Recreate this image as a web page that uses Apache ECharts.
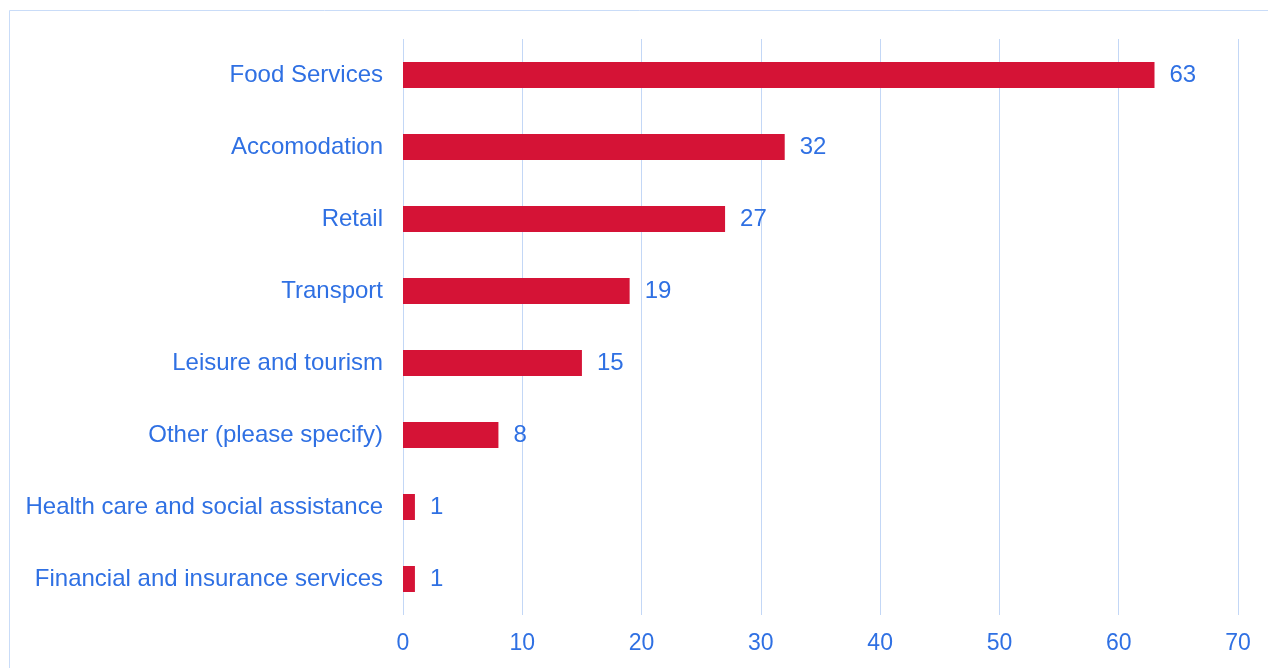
<!DOCTYPE html>
<html>
<head>
<meta charset="utf-8">
<script src="https://cdn.jsdelivr.net/npm/echarts@6/dist/echarts.min.js"></script>
<style>html,body{margin:0;padding:0;background:#fff}#c{width:1268px;height:668px}</style>
</head>
<body>
<div id="c"></div>
<script>
var categories = ["Food Services","Accomodation","Retail","Transport","Leisure and tourism","Other (please specify)","Health care and social assistance","Financial and insurance services"];
var values = [63,32,27,19,15,8,1,1];
var xTicks = [0,10,20,30,40,50,60,70];

var blue = '#2f70e3';
var font = 'Liberation Sans, Arial';
var chart = echarts.init(document.getElementById('c'));
chart.setOption({
  animation:false,
  graphic:[{type:'rect',shape:{x:9.5,y:10.5,width:1400,height:800},style:{fill:'none',stroke:'#c9dcf8',lineWidth:1}}],
  grid:{left:403,right:30,top:39,bottom:53,containLabel:false},
  xAxis:{type:'value',min:xTicks[0],max:xTicks[xTicks.length-1],interval:10,
    axisLine:{show:false},axisTick:{show:false},
    splitLine:{show:true,lineStyle:{color:'#c3d7f6',width:1}},
    axisLabel:{color:blue,fontSize:23,fontFamily:font,margin:17}},
  yAxis:{type:'category',data:categories,inverse:true,
    axisLine:{show:false},axisTick:{show:false},
    axisLabel:{color:blue,fontSize:24,fontFamily:font,margin:20}},
  series:[{type:'bar',data:values,barWidth:26,
    itemStyle:{color:'#d51336'},
    label:{show:true,position:'right',distance:15,color:blue,fontSize:24,fontFamily:font}}]
});
</script>
</body>
</html>
